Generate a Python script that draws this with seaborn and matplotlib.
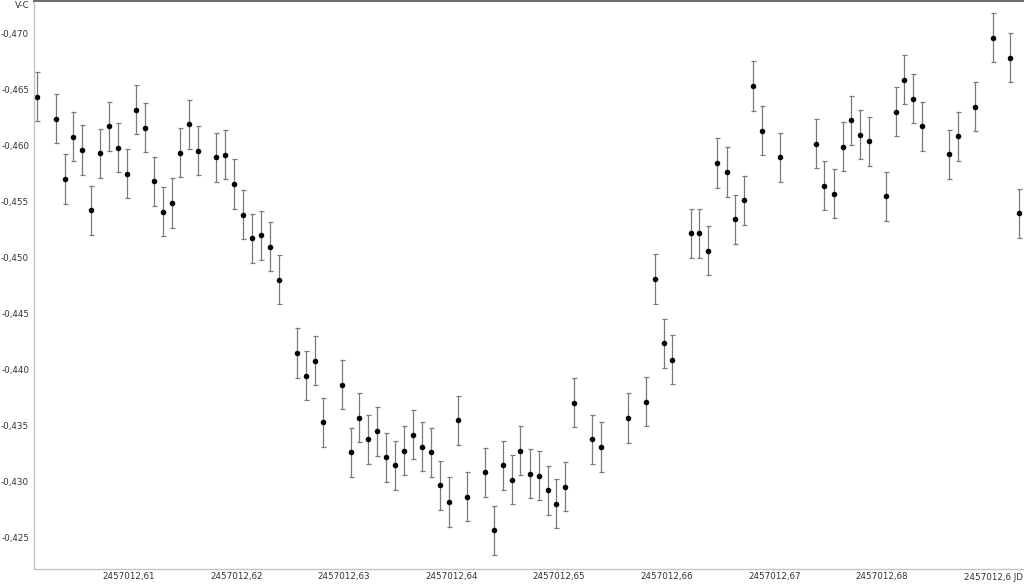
import numpy as np
import pandas as pd
import matplotlib
matplotlib.use("Agg")
import matplotlib.pyplot as plt
import seaborn as sns
from matplotlib.ticker import FuncFormatter, MultipleLocator

jd = [
    2457012.60151, 2457012.60322, 2457012.60405, 2457012.60482, 2457012.60569,
    2457012.60647, 2457012.60733, 2457012.60817, 2457012.60901, 2457012.60981,
    2457012.61068, 2457012.61151, 2457012.61232, 2457012.61316, 2457012.61402,
    2457012.61480, 2457012.61563, 2457012.61644, 2457012.61811, 2457012.61898,
    2457012.61976, 2457012.62059, 2457012.62146, 2457012.62227, 2457012.62310,
    2457012.62394, 2457012.62561, 2457012.62645, 2457012.62729, 2457012.62809,
    2457012.62980, 2457012.63063, 2457012.63143, 2457012.63224, 2457012.63308,
    2457012.63391, 2457012.63475, 2457012.63561, 2457012.63645, 2457012.63723,
    2457012.63807, 2457012.63893, 2457012.63977, 2457012.64058, 2457012.64144,
    2457012.64309, 2457012.64392, 2457012.64476, 2457012.64562, 2457012.64639,
    2457012.64727, 2457012.64810, 2457012.64894, 2457012.64974, 2457012.65058,
    2457012.65136, 2457012.65306, 2457012.65387, 2457012.65640, 2457012.65805,
    2457012.65889, 2457012.65972, 2457012.66052, 2457012.66223, 2457012.66300,
    2457012.66387, 2457012.66470, 2457012.66558, 2457012.66635, 2457012.66718,
    2457012.66805, 2457012.66886, 2457012.67053, 2457012.67388, 2457012.67465,
    2457012.67552, 2457012.67636, 2457012.67716, 2457012.67796, 2457012.67877,
    2457012.68041, 2457012.68128, 2457012.68208, 2457012.68292, 2457012.68370,
    2457012.68621, 2457012.68704, 2457012.68865, 2457012.69030, 2457012.69193,
    2457012.69277,
]
vc = [
    -0.46435, -0.46241, -0.45700, -0.46078, -0.45959,
    -0.45420, -0.45932, -0.46173, -0.45979, -0.45747,
    -0.46321, -0.46158, -0.45679, -0.45408, -0.45486,
    -0.45935, -0.46188, -0.45953, -0.45893, -0.45917,
    -0.45655, -0.45381, -0.45170, -0.45196, -0.45096,
    -0.44801, -0.44146, -0.43941, -0.44078, -0.43524,
    -0.43861, -0.43259, -0.43566, -0.43372, -0.43444,
    -0.43214, -0.43140, -0.43271, -0.43414, -0.43307,
    -0.43259, -0.42964, -0.42813, -0.43542, -0.42861,
    -0.43080, -0.42560, -0.43140, -0.43013, -0.43271,
    -0.43066, -0.43048, -0.42917, -0.42798, -0.42950,
    -0.43700, -0.43372, -0.43304, -0.43563, -0.43709,
    -0.44807, -0.44232, -0.44084, -0.45214, -0.45214,
    -0.45060, -0.45843, -0.45763, -0.45339, -0.45509,
    -0.46533, -0.46131, -0.45893, -0.46015, -0.45640,
    -0.45571, -0.45988, -0.46227, -0.46096, -0.46036,
    -0.45545, -0.46301, -0.46587, -0.46417, -0.46173,
    -0.45920, -0.46084, -0.46348, -0.46964, -0.46786,
    -0.45393,
]
err = 0.0022
last_tick = 2457012.69  # its label is cut off by the axis unit "JD"

df = pd.DataFrame({"JD": jd, "V-C": vc})

sns.set_theme(style="white")
plt.rcParams['font.family'] = ['DejaVu Sans']

fig = plt.figure(figsize=(10.24, 5.84), dpi=100)
ax = fig.add_axes([34 / 1024, 15 / 584, 1 - 34 / 1024, 1 - 16 / 584])

ax.errorbar(df["JD"], df["V-C"], yerr=err, fmt='none', ecolor='#7a7a7a',
            elinewidth=0.9, capsize=1.8, capthick=0.9, zorder=1)
sns.scatterplot(data=df, x="JD", y="V-C", ax=ax, color='black', s=16,
                linewidth=0, zorder=2)

ax.set_xlim(2457012.6012, 2457012.6932)
ax.set_ylim(-0.42214, -0.47292)


def fmt_jd(v, pos):
    if v > last_tick - 0.005:
        return ""
    return f"{v:.2f}".replace('.', ',')


ax.xaxis.set_major_locator(MultipleLocator(0.01))
ax.yaxis.set_major_locator(MultipleLocator(0.005))
ax.xaxis.set_major_formatter(FuncFormatter(fmt_jd))
ax.yaxis.set_major_formatter(FuncFormatter(lambda v, p: f"{v:.3f}".replace('.', ',')))
ax.tick_params(axis='both', length=0, labelsize=6.3, labelcolor='#333333')
ax.tick_params(axis='x', pad=2)
ax.tick_params(axis='y', pad=3.5)
ax.set_xlabel("")
ax.set_ylabel("")

# last tick label, truncated, followed by the axis unit
ax.annotate(f"{last_tick:.2f}".replace('.', ',')[:-1] + " JD",
            xy=(last_tick, 0), xycoords=('data', 'axes fraction'),
            xytext=(-26, -8), textcoords='offset pixels',
            ha='left', va='center', fontsize=6.3, color='#333333',
            annotation_clip=False)

for side in ['left', 'bottom']:
    ax.spines[side].set_color('#c4c4c4')
    ax.spines[side].set_linewidth(1.0)
ax.spines['right'].set_visible(False)
ax.spines['top'].set_color('#6e6e6e')
ax.spines['top'].set_linewidth(1.5)

fig.text(30 / 1024, 1 - 6 / 584, "V-C", ha='right', va='center',
         fontsize=6.3, color='#333333')

fig.savefig("out.png", dpi=100)
